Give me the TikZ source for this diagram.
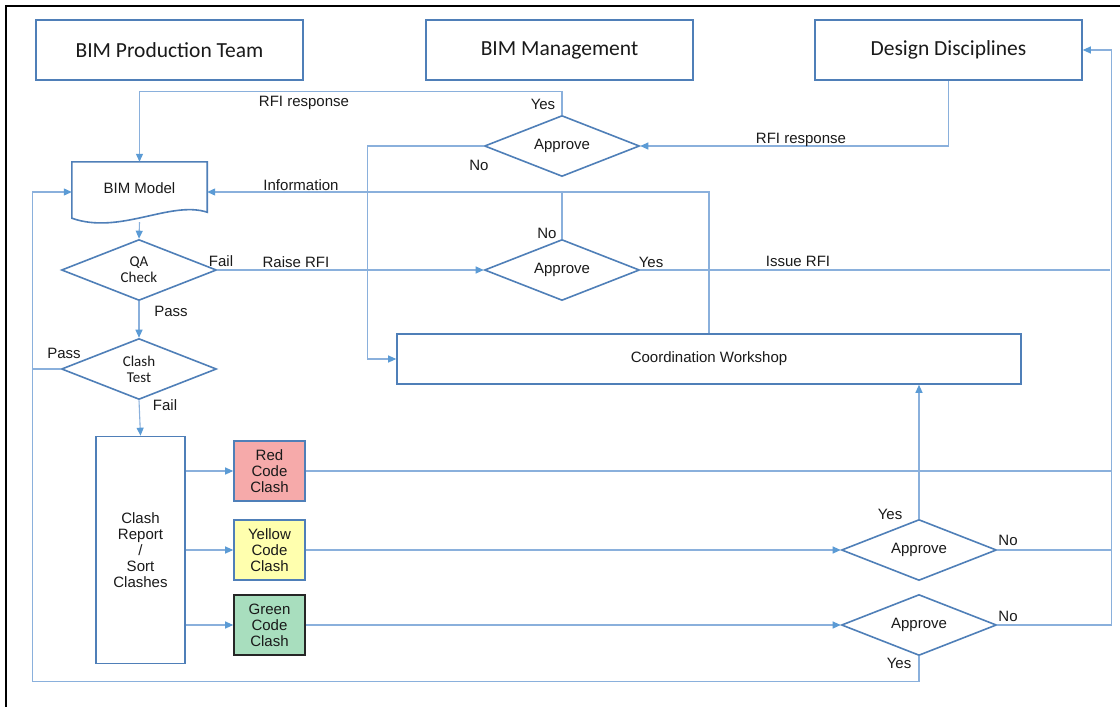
\documentclass[tikz,border=0pt]{standalone}
\usepackage{fontspec}
\setmainfont{Liberation Sans}
\newfontfamily\calfont{Carlito}
\usetikzlibrary{shapes.geometric,arrows.meta,calc}
\definecolor{edgeblue}{HTML}{4F7FB8}
\definecolor{wireblue}{HTML}{8AB0DC}
\definecolor{tipblue}{HTML}{5B9BD5}
\definecolor{redfill}{HTML}{F6AAAA}
\definecolor{yelfill}{HTML}{FFFFAE}
\definecolor{grnfill}{HTML}{A8DEBE}
\definecolor{ink}{HTML}{1A1A1A}
\begin{document}
\begin{tikzpicture}[x=1pt,y=-1pt,
  txt/.style={font=\fontsize{15}{16}\selectfont, text=ink, inner sep=0pt},
  smalltxt/.style={font=\calfont\fontsize{15}{16}\selectfont, text=ink, inner sep=0pt},
  title/.style={draw=edgeblue, line width=1.6pt, minimum width=267pt, minimum height=60pt,
                font=\calfont\fontsize{21.5}{24}\selectfont, text=ink, inner sep=0pt},
  boxsty/.style={draw=edgeblue, line width=1.6pt},
  proc/.style={boxsty, txt, align=center},
  dec/.style={diamond, boxsty, align=center, minimum width=155pt, minimum height=61pt,
              aspect=2.5, inner sep=0pt},
  wire/.style={draw=wireblue, line width=1.1pt},
  arr/.style={wire, -{Triangle[length=8pt,width=7pt,color=tipblue]}},
]
\useasboundingbox (0,0) rectangle (1120,707);
\fill[white] (0,0) rectangle (1120,707);
% outer frame (top and left edges)
\draw[black, line width=2.6pt] (6,707) -- (6,6) -- (1120,6);

% swimlane headers
\node[title] (bpt) at (169.5,50) {BIM Production Team};
\node[title] (bmg) at (559.5,50) {BIM Management};
\node[title] (dd)  at (948.5,50) {Design Disciplines};

% BIM model (document shape drawn around the node)
\node[txt, minimum width=135pt, minimum height=60pt, text depth=8pt] (bm) at (139.5,192) {BIM Model};
\draw[boxsty] (bm.north west) -- (bm.north east) -- ($(bm.south east)+(0,-10)$)
  .. controls ($(bm.south east)+(-37,-22)$) and ($(bm.south west)+(48,13)$) .. ($(bm.south west)+(0,-4)$) -- cycle;

% decisions
\node[dec, txt] (a1) at (562,146) {Approve};
\node[dec, txt] (a2) at (562,270) {Approve};
\node[dec, smalltxt] (qa) at (139,270) {QA\\Check};
\node[dec, smalltxt] (ct) at (139,369) {Clash\\Test};
\node[dec, txt] (a3) at (919,550) {Approve};
\node[dec, txt] (a4) at (919,625) {Approve};

% processes
\node[proc, minimum width=624pt, minimum height=50pt] (cw) at (709,359) {Coordination Workshop};
\node[proc, minimum width=89pt, minimum height=227pt] (cr) at (140.5,550) {Clash\\Report\\/\\Sort\\Clashes};
\node[proc, fill=redfill, minimum width=71pt, minimum height=60pt] (red) at (269.5,471) {Red\\Code\\Clash};
\node[proc, fill=yelfill, minimum width=71pt, minimum height=60pt] (yel) at (269.5,550) {Yellow\\Code\\Clash};
\node[proc, fill=grnfill, draw=black!85, minimum width=71pt, minimum height=60pt] (grn) at (269.5,625) {Green\\Code\\Clash};

% connectors
\draw[arr] (a1.north) -- ++(0,-23) -| (bm.north);
\draw[arr] (a1.west) -- ++(-116,0) |- (cw.west);
\draw[arr] (dd.south) |- (a1.east);
\draw[arr] (cw.north) |- (bm.east);
\draw[wire] (a2.north) -- (a2.north |- bm.east);
\draw[wire] (a2.east) -- ++(470,0);
\draw[arr] (qa.east) -- (a2.west);
\draw[arr] (bm.south) -- (qa.north);
\draw[arr] (qa.south) -- (ct.north);
\draw[arr] (ct.west) -- ++(-28,0) |- (bm.west);
\draw[wire] (a4.south) -- ++(0,25) -| ($(ct.west)+(-28,0)$);
\draw[arr] (ct.south) -- (cr.north);
\draw[arr] (cr.east |- red.west) -- (red.west);
\draw[arr] (cr.east |- yel.west) -- (yel.west);
\draw[arr] (cr.east |- grn.west) -- (grn.west);
\draw[wire] (red.east) -- ++(805,0);
\draw[arr] (yel.east) -- (a3.west);
\draw[arr] (grn.east) -- (a4.west);
\draw[arr] (a3.north) -- (a3.north |- cw.south);
\draw[wire] (a3.east) -- ++(114,0);
\draw[arr] (a4.east) -- ++(114,0) |- (dd.east);

% connector labels
\node[txt] (l1)  at (304,103) {RFI response};
\node[txt] (l2)  at (543,104) {Yes};
\node[txt] (l3)  at (479,165) {No};
\node[txt] (l4)  at (801,140) {RFI response};
\node[txt] (l5)  at (301,185) {Information};
\node[txt] (l6)  at (547,233) {No};
\node[txt] (l7)  at (651,262) {Yes};
\node[txt] (l8)  at (798,261) {Issue RFI};
\node[txt] (l9)  at (221,261) {Fail};
\node[txt] (l10) at (296,262) {Raise RFI};
\node[txt] (l11) at (171,311) {Pass};
\node[txt] (l12) at (64,353)  {Pass};
\node[txt] (l13) at (165,405) {Fail};
\node[txt] (l14) at (890,514) {Yes};
\node[txt] (l15) at (1008,540) {No};
\node[txt] (l16) at (1008,616) {No};
\node[txt] (l17) at (899,663) {Yes};
\end{tikzpicture}
\end{document}
